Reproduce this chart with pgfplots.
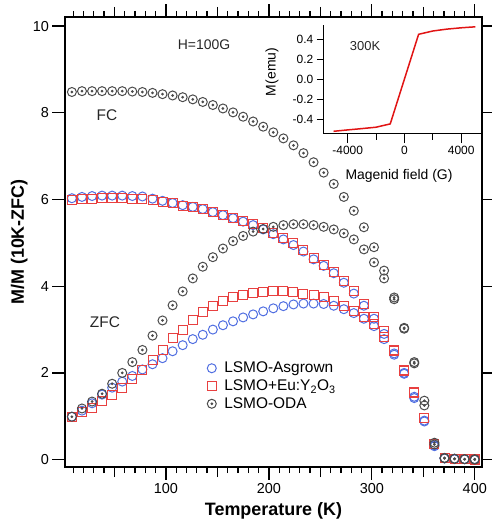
\documentclass[border=0pt]{standalone}
\usepackage{fontspec}
\setmainfont{Liberation Sans}
\usepackage{pgfplots}
\pgfplotsset{compat=1.18}
\usepackage{pgfplotstable}

\definecolor{cblue}{RGB}{80,110,225}
\definecolor{cred}{RGB}{232,64,64}
\definecolor{cgray}{RGB}{75,75,75}
\definecolor{cline}{RGB}{225,20,20}

\pgfdeclareplotmark{odot}{%
  \pgfpathcircle{\pgfpointorigin}{\pgfplotmarksize}\pgfusepathqstroke
  \pgfpathcircle{\pgfpointorigin}{0.8bp}\pgfusepathqfillstroke}

\pgfplotstableread{
T     aFC   aZFC  eFC   eZFC  oFC   oZFC
8.7   6.03  0.99  6.00  0.99  8.48  0.99
18.5  6.06  1.13  6.01  1.10  8.50  1.18
28.3  6.08  1.30  6.02  1.20  8.50  1.34
38.0  6.09  1.50  6.03  1.35  8.50  1.52
47.8  6.09  1.66  6.03  1.50  8.50  1.75
57.6  6.09  1.80  6.03  1.66  8.50  2.00
67.4  6.08  1.93  6.02  1.86  8.49  2.25
77.2  6.07  2.08  6.01  2.07  8.48  2.53
87.0  6.02  2.20  5.99  2.30  8.46  2.86
96.7  5.97  2.34  5.95  2.52  8.43  3.21
106.5 5.92  2.50  5.91  2.80  8.40  3.56
116.3 5.87  2.64  5.86  3.00  8.36  3.88
126.1 5.83  2.78  5.82  3.22  8.31  4.18
135.8 5.78  2.88  5.77  3.40  8.25  4.45
145.6 5.71  3.00  5.71  3.55  8.18  4.67
155.4 5.64  3.10  5.65  3.66  8.10  4.87
165.2 5.57  3.19  5.58  3.74  8.01  5.04
175.0 5.49  3.28  5.51  3.80  7.91  5.16
184.7 5.41  3.35  5.43  3.85  7.80  5.26
194.5 5.31  3.42  5.34  3.87  7.68  5.32
204.3 5.20  3.49  5.23  3.88  7.55  5.37
214.1 5.08  3.54  5.11  3.88  7.41  5.41
223.9 4.95  3.58  4.99  3.86  7.25  5.43
233.6 4.80  3.60  4.83  3.83  7.07  5.43
243.4 4.62  3.60  4.65  3.79  6.86  5.41
253.2 4.47  3.59  4.50  3.74  6.62  5.37
263.0 4.30  3.55  4.33  3.66  6.36  5.31
272.8 4.08  3.47  4.12  3.55  6.06  5.22
282.5 3.83  3.38  3.88  3.42  5.74  5.08
292.3 3.55  3.25  3.60  3.30  5.36  4.85
302.1 3.25  3.08  3.30  3.12  4.90  4.55
311.9 2.90  2.78  2.96  2.82  4.36  4.18
321.7 2.45  2.42  2.52  2.50  3.74  3.70
331.4 2.00  1.98  2.06  2.05  3.04  3.02
341.2 1.45  1.42  1.55  1.53  2.25  2.22
351.0 0.90  0.88  0.97  0.95  1.36  1.25
360.8 0.33  0.31  0.37  0.36  0.39  0.35
370.6 0.03  0.03  0.03  0.03  0.04  0.03
380.3 0.02  0.01  0.02  0.02  0.02  0.02
390.1 0.01  0.01  0.01  0.01  0.01  0.01
399.9 0.01  0.00  0.01  0.00  0.01  0.00
}\mtdata

\pgfplotstableread{
H      M
-5000  -0.520
-4000  -0.506
-3000  -0.493
-2000  -0.479
-1000  -0.446
1000   0.450
2000   0.483
3000   0.502
4000   0.515
5000   0.525
}\mhdata

\begin{document}
\begin{tikzpicture}
\begin{axis}[
  at={(65bp,-467bp)}, anchor=south west,
  scale only axis, width=417bp, height=450bp,
  xmin=2, xmax=407, ymin=-0.17, ymax=10.21,
  axis line style={line width=1.6bp},
  tick align=outside,
  every tick/.style={black, line width=1.3bp},
  major tick length=12.5bp, minor tick length=6bp,
  xtick={100,200,300,400},
  minor xtick={10,20,...,400},
  extra x ticks={50,150,250,350}, extra x tick labels={},
  extra x tick style={major tick length=10bp},
  ytick={0,2,4,6,8,10},
  tick label style={font=\fontsize{14.5}{16}\selectfont},
  /pgf/number format/assume math mode=true,
  xlabel={Temperature (K)},
  ylabel={M/M (10K-ZFC)},
  xlabel style={at={(axis description cs:0.5,-0.098)}, anchor=center, font=\fontsize{18}{20}\selectfont\bfseries},
  ylabel style={at={(axis description cs:-0.11,0.5)}, anchor=center, rotate=0, font=\fontsize{18}{20}\selectfont\bfseries},
  legend style={draw=none, fill=none, at={(axis cs:140,2.3)}, anchor=north west,
    font=\fontsize{15.5}{17}\selectfont, row sep=1.5bp, inner sep=0pt,
    /tikz/every odd column/.append style={column sep=6bp}},
  legend cell align=left,
  legend image code/.code={\draw[mark repeat=2,mark phase=2] plot coordinates {(0bp,0bp)(6bp,0bp)(12bp,0bp)};},
]
\addplot[only marks, mark=o, mark size=4.5bp, cblue, mark options={line width=1bp}] table[x=T,y=aFC]{\mtdata};
\addlegendentry{LSMO-Asgrown}
\addplot[only marks, mark=o, mark size=4.5bp, cblue, mark options={line width=1bp}, forget plot] table[x=T,y=aZFC]{\mtdata};
\addplot[only marks, mark=square, mark size=4.5bp, cred, mark options={line width=1bp}] table[x=T,y=eFC]{\mtdata};
\addlegendentry{LSMO+Eu:Y\textsubscript{2}O\textsubscript{3}}
\addplot[only marks, mark=square, mark size=4.5bp, cred, mark options={line width=1bp}, forget plot] table[x=T,y=eZFC]{\mtdata};
\addplot[only marks, mark=odot, mark size=4.5bp, cgray, fill=cgray, mark options={line width=1bp}] table[x=T,y=oFC]{\mtdata};
\addlegendentry{LSMO-ODA}
\addplot[only marks, mark=odot, mark size=4.5bp, cgray, fill=cgray, mark options={line width=1bp}, forget plot] table[x=T,y=oZFC]{\mtdata};
\node[font=\fontsize{14}{16}\selectfont, text=black!85] at (axis cs:137,9.56) {H=100G};
\node[font=\fontsize{15.5}{17}\selectfont, text=black!85] at (axis cs:42.7,7.94) {FC};
\node[font=\fontsize{15.5}{17}\selectfont, text=black!85] at (axis cs:40.8,3.17) {ZFC};
\end{axis}

\begin{axis}[
  at={(323.3bp,-133bp)}, anchor=south west,
  scale only axis, width=157.7bp, height=108bp,
  xmin=-5720, xmax=5400, ymin=-0.537, ymax=0.543,
  axis x line*=bottom, axis y line*=left,
  axis line style={line width=1bp},
  tick align=outside,
  every tick/.style={black, line width=1bp},
  major tick length=10bp, minor tick length=6.5bp,
  xtick={-4000,0,4000}, xticklabels={-4000,0,4000},
  minor xtick={-2000,2000},
  ytick=\empty,
  extra y ticks={-0.4,-0.2,0,0.2,0.4},
  extra y tick labels={-0.4,-0.2,0.0,0.2,0.4},
  extra y tick style={major tick length=6.5bp},
  scaled x ticks=false,
  tick label style={font=\fontsize{12}{14}\selectfont},
  xlabel={Magenid field (G)},
  ylabel={M(emu)},
  xlabel style={at={(axis description cs:0.48,-0.398)}, anchor=center, font=\fontsize{14}{16}\selectfont},
  ylabel style={at={(axis description cs:-0.325,0.565)}, anchor=center, rotate=0, font=\fontsize{14}{16}\selectfont},
]
\addplot[cline, line width=1.5bp, no marks] table[x=H,y=M]{\mhdata};
\node[font=\fontsize{13}{15}\selectfont, text=black!85] at (axis cs:-2777,0.336) {300K};
\end{axis}
\pgfresetboundingbox
\useasboundingbox (0,0) rectangle (492bp,-525bp);
\end{tikzpicture}
\end{document}
